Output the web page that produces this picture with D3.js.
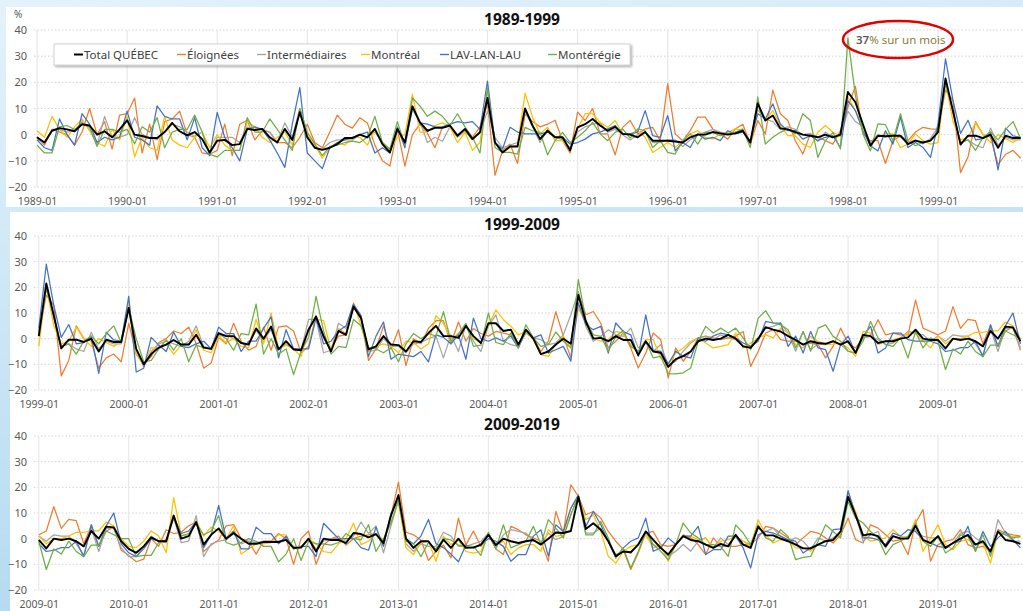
<!DOCTYPE html>
<html>
<head>
<meta charset="utf-8">
<script src="https://cdn.jsdelivr.net/npm/d3@7/dist/d3.min.js"></script>
<style>
  body { margin: 0; background: #fff; }
  svg { display: block; font-family: "Noto Sans", "Open Sans", sans-serif; }
</style>
</head>
<body>
<svg id="chart" width="1023" height="611"></svg>
<script>
// monthly % change, 1989-01 .. 2019-12 (one row per year)
const total = [
  -1, -3, 1.5, 2.5, 2, 1.3, 4, 3.5, 0, 1.3, -1, 2,
  5.5, 0, -0.5, -1.3, -1.3, 1, 4.5, 1.3, -0.3, 1, -1.7, -6.8,
  -2.3, -2, -4, -3.6, 2.2, 1.8, 2.2, -1, -3, 2.2, -2, 8.6,
  -1, -5, -5.8, -5, -3.6, -1.3, -1.3, 0, -1, 2.2, -3.6, -6.8,
  2.2, -3, 10.8, 4.7, 1.5, 2.6, 2.6, 3.5, -0.4, 2.2, -1.7, 0.9,
  14, -3, -6.8, -4.5, -4.5, 10, 3.5, -1.7, 1.5, -1, -1, -6,
  2.8, 4, 6, 3.5, 1.5, 3, 0.3, 0, -1, 1, -2.3, -2.3,
  -2.3, -2.6, -3, -1, 0, 0, 1, 0.5, 0, 0.5, 1.5, -3,
  12, 5.4, 7.3, 2.4, 2, 1, 0, -0.4, -1, 0, -1, 0,
  16.3, 12.4, 4, -4.2, -0.4, -0.6, -0.4, -0.4, -3.6, -2.3, -3, -2.3,
  1, 21.5, 9, -3.8, -0.4, -0.4, -1.3, 0, -5, -0.4, -1.3, -1.3,
  12, -4, -10, -6, -3.5, -2.3, -0.5, -2.3, -2.3, 1.5, -3.5, -4,
  2.2, 1, 1, -1.7, -2.3, 4, 0, 4.7, -4.2, -1, -4.2, -4.5,
  3.5, 8.6, 1, -5, 3, 1.5, 12.5, 8, -4.2, -3, 1, -2.3,
  -2.5, -5, -1, -1.3, 2.2, 5, 1, 1, 0.3, 5, 1, -1.7,
  6, 6, 3, 3.5, -2.3, 3.5, 0, -6, -5, -2.3, 0, -2,
  17, 6.7, 0, 0.3, -1, 1, -0.5, -0.5, -6.4, -1, -5, -5.5,
  -11, -8, -6.8, -5, -1, 0, -0.5, 0, 1.5, 0, -3, -3.6,
  0, 4.5, 3.5, 2.8, 1, -0.5, -2.3, -1, -1.7, -2, -1, -2.3,
  -1, -5.5, 1.5, 1, -1.7, -1, -1, 0, 0.5, 3.5, 0, -0.5,
  -0.5, -3.8, 0, -0.5, 0, -1, -3, 3, 0, 4.7, 4.4, -1,
  -4, -5.5, -3, 0.5, -1, -1, 9, 0, 1, 6.5, -2.3, 1.5,
  4, 0, 2.2, 0, -2, -2, -1.3, -1.3, -1.3, -0.5, -3.6, -3.5,
  0, -5, 0, -0.5, -0.5, -1.7, 2.2, 1.8, 0.5, 1.8, -1.7, 9,
  17, 0, -3.6, -1, -1, -5, -0.4, -3.6, 0, -3.6, -3.5, -2.3,
  1.5, -2.5, 0, -1, -1.7, -1, -0.5, -2.3, 0, 2.4, 2.2, 3,
  16.3, 3.8, 6, 3.5, -1, -6.8, -5, -5.3, -2.3, 2.8, -0.5, -3.6,
  -6.2, -2.3, 1, -0.5, -1, -2.3, -3.6, -2, -3, 1.5, -2.3, -3.6,
  4.7, 1.3, 1.3, 0, -1, -2.3, -3.8, -3.8, -2.3, -1, -0.5, 2.8,
  16.3, 9.2, 1.3, 1.8, 1, -3, 1, 0, 0, 5, -0.5, -1.7,
  1, -3.6, -1.7, 0, 1.5, -2.3, -1, -5, 2.8, -0.5, -1, -2
];

const eloignees = [
  -1, -4, 2, 1, 0, -4, 1, 10, 0, 5, -5.5, 7.5,
  8, 14, -7, 4, -9.5, 5, 6, 9, 0, -1, -7, -7.5,
  -6, 4, -8, 4, 5.5, -2, 1.5, 1, -3, -3, -5, -1,
  4, -3, -5, 1, 7.5, 4, 2.5, 6.5, 4.5, -4, -10, -12,
  2, -12, 0, 4, 0.5, -5, 3, 3.5, 0, 2, -1, 3,
  12, -15.5, -6, -3.6, -11, 8, 5, 3, 4, 5.5, -2.3, -7,
  8.6, 5.4, 10, 0.3, 0.3, -7.7, 2.8, 5.4, 0.3, 2.2, 2.8, -2.3,
  19.5, 0.3, -2.3, 1.5, 6.7, 6.7, 2.2, 0.3, -1.7, 2.2, 4, -3.6,
  5.4, 0.3, 17, 8, 5.4, -2.3, -7.4, 0.3, -1, -2.3, -3.6, 1.5,
  10.5, 18.5, 0.3, -2.3, -2.3, -11, -2.3, -0.4, -2.3, 1, 2.8, 2.2,
  2, 17, 13, -14.5, -8.5, 5, 0, -1, -11.5, -7.5, -6, -9,
  6, -6, -10, -7, -1.5, 0, 3, 2, 4.5, -2, -11.5, -9.5,
  0.5, -2, 6, -1, -4.5, -3, 4.5, -4.5, 4.5, 5, 3, -5.5,
  -3, 9, 0, -4, 1, 1.5, 12, 8, -8.5, -4, 5, -4,
  3.5, -10.5, 0, -2, 4, 7, 7, -2, 6.5, -1, 4, 2,
  1, 2.8, 2.2, 1.5, -3, 2.2, 0.3, -5, -1, 10.5, 1, -7.5,
  17.8, 9.3, 10.6, 6, -3.6, -1, 2.2, -3.6, -11.4, -5.6, 2.2, -0.4,
  -15.3, -3.6, -8.8, -5, 0.3, 1, 0.3, -0.4, 0.3, 1, 2.8, -10.8,
  -5, 2.2, 3.5, -0.4, -1, -1, -2.3, -1.7, -2.3, -7.5, -3, 4.1,
  -1.7, -3.6, 0.3, 1.5, 7.4, 1.5, 2.2, 1.5, 1.5, 15, 4.1, 2.8,
  1.5, 3, 12.5, 4, 7.5, 7, -2, 5, -3, 3, 4.5, -4.5,
  -6.5, -9, -8, 0, -3, 3.5, 2, 2.5, 5, 6.5, -5, -2.5,
  -0.5, 5, 5.5, 0, -1, -6, -1, -1, 2, 0, -10, 0,
  3, -10, -2.5, 0, 1, -2.5, 0, 1, 1.5, 2, -2.5, 9,
  22, 2.5, 1.5, -0.5, -8.5, -5, -2.5, -7.5, 8, -2.5, 3, -3,
  1.5, -4, -6.2, 4.8, 3.5, 1.5, 0.3, -1, -8.8, 10.6, 2.2, 21,
  16.5, 9.3, 10.6, 8, 2.8, -1, -4.3, -12, -5.6, 2.2, 2.8, -2.3,
  -3, -2.3, 1.5, 0.3, -2.3, -6.2, 0.3, -3, -3, -3, -2.3, -2.3,
  0.3, 4.8, 4.1, 2.2, 0.3, -2.3, 0.3, 2.8, 2.2, 0.3, -1.7, 1.5,
  8, -0.4, -1.7, 5.4, 4.1, 1.5, -1, -0.4, -6.2, 6.1, 11.3, -8.8,
  -2.3, -1, -0.4, 3.5, -2.3, -3.6, -3, -4.9, 3.5, 2.2, 1.5, 1
];

const intermediaires = [
  -2, -3, 2, 2, 1, 1.5, 5, 2, -4, 7, -1, -1,
  0, 6.5, 0, -1, -2, 1, 4, 3, 1, -0.5, 1, -8,
  -1, -1, -1, -3, 3, 1.5, 2, 1, -3, 4.5, -1, 10,
  -1, -5, -5.5, -3, -2, -2, -2, 0, -1, 1, -3, -6,
  2, -3, 9.5, 5, -3, -1, -2.5, 3, -1, 1.5, -2, 1,
  9, -1, -5, -4, -3, 9, 3, -3, 2, -1, -2, -5,
  1, 3, 4, 4.5, 1, 2, 0, -2, 0, 1, -3, -3,
  -2, -2, -4.5, -2, 0, 1, 2, 1, 0.5, 1, 1, -2.5,
  9.5, 6, 5, 2, 3, 2, 0, 0.5, -2.5, 1, -1, -0.5,
  9, 5, 3, -3, 0, -1, 0, -1, -3, -2, -3.5, -1.5,
  3, 20, 8, -3, -2, -4, -5, 2.5, -4, -1, -2, -2,
  12, -4, -11, -5, -2, -1, -2, -3, -1, 5, -3, -4,
  1, 1.5, 0, -1.5, -2, 3, -0.5, 3.5, -4, -2, -4, -4.5,
  7.5, 7.5, -5.5, -4.5, 6, 4, 12, 9, -5, -4.5, 0, -3,
  -3, -5.5, -2, -1.5, 0, 1, -7.5, 1.5, -5, 5.5, -1, -5,
  5, 9.3, -1, -2.3, -3, 2.2, 0.3, -0.4, -2.3, -1.7, 1.5, 9.3,
  18.4, 4.8, -1, 0.9, 3.5, 1.5, 0.9, 4.1, -3.6, -1.7, -4.9, -2.3,
  -10.4, -8.8, -4.9, -1.7, 0.3, 0.9, -0.4, 1.5, 0.3, -0.4, -3, -3,
  -0.4, 4.1, 4.8, 6.1, 2.2, -4.9, 2.8, -4.3, -2.1, -2.3, -1, -2.3,
  -4.9, -5.6, 0.3, 0.9, -0.4, -2.3, -1.7, 0.3, 2.8, 2.2, 1.5, -1,
  1, -1, 1.5, 1, 1, -2, -6.5, 4, -5, 4, 4, -3.5,
  -7, -7, -3, 1, -1, -1.5, 8, -1.5, -1, 9, -7, -2,
  -1, -0.5, 2, -2, -1, -1.5, -1, -1, -1, 0, -3, -3,
  0, -4, -1, 0, 0, -1, 1, 6.5, 2, 5, -5.5, 5,
  15, -2, -5, -2, -3, -3, 2.5, 1, -3, -3, -2, -1,
  2, -3.6, 1.5, 3.5, 2.8, 2.2, -1, -1.7, 2.2, -0.4, 0.9, 9.3,
  17, 2.2, 2.2, 4.1, -1, -6.2, -4.9, -5.6, -2.3, 2.8, -2.3, -3.6,
  -6.9, -4.9, -2.3, -4.9, -1, 0.3, -3.6, 0.3, -2.3, 0.9, -1, -2.3,
  4.1, 2.8, 4.1, 0.9, -1, 0.3, -1, -4.3, 0.3, -1, 0.3, 2.2,
  18, 9.3, -1, 1.5, 2.8, -3.6, 0.9, 0.3, 0.9, 3.5, 0.9, 0.3,
  0.3, -3.6, -1.7, 2.2, 2.8, 0.3, -1.7, -5.6, 7.4, 2.2, -1, -1
];

const montreal = [
  1.5, -1, 7, 2, -1, 3, 6, 1.5, -3, -4.5, 2, -2,
  7, -8.5, -1, -5, -6, 7, -2, -4, -5, -1, 1, -5,
  0, -4, -6, -6, 5, 3, -1, -3, -1, 1, -4, 10,
  0, -4, -9, -5, -3, -4, -1, -1, -4, 2, -3, -6,
  -1, 0, 15.5, 1, 1, 3.5, 4.5, 3, -3, 1, -6, -3,
  17, -3, -6.5, -5, -4, 15.9, 6.7, 0.3, 2.8, -2.3, -2.3, -5.5,
  2.2, 8, 8, 4.7, 2.8, 5.4, 0.3, 0.3, 1.5, -1, -6.8, -4.9,
  -3, -4.9, -2.3, 0.3, 1.5, -1, -1.7, 0.3, 0.9, 2.2, 1.5, -3.6,
  11.2, 5.4, 9.2, 3.5, -0.4, -0.4, -3.6, -4.9, 0.9, 3.5, 0.9, -0.4,
  14.4, 9.2, 2.8, -3.6, -1, 0.3, 0.3, -4.9, -3.6, 0.3, -2.3, -3.6,
  -3, 20.5, 5, -2, -1, 4.5, 0, -3, 0, -1.5, -3, -1,
  14.5, -6, -10.5, -3.5, -4, -2, -6, -2.5, -2.5, 3.5, -4.5, -5.5,
  1, -1.5, 0, -3, -3.5, 7.5, -2, 10, -4, -2.5, -4, -7,
  4, 7.5, 7, -4.5, 4, 2, 14, 5, -5, -3, -2, -3,
  -5.5, -1, -1.5, -4, -2, 9, 6, 0, 1.5, 4.5, 0, -1.5,
  5, 11.2, 7.4, 4.8, 1.5, 2.8, -0.4, -6.2, -6.9, -2.3, 0.9, -3.6,
  11.9, 6.1, 0.3, -1, -0.4, 2.8, 2.2, -2.3, -4.9, -0.4, -0.4, -7.5,
  -10.1, -5.6, -3.6, -1, 0.3, -1.7, -3.6, -3, -2.3, 2.2, -3.6, -1.7,
  0.3, 1.5, 0.3, 4.1, 2.2, -2.3, -3.6, 0.9, -1, -2.3, -2.1, -1.7,
  -3.6, -6.9, 2.8, 2.2, -2.3, -1, -0.4, 0.3, 2.2, 2.2, -1, -3.6,
  1, -2, 0, 0, 1, 2.5, 2.5, 3, 3, 6.5, 5, 0,
  -3, -3.5, -1, 3, 1, -5.5, 16, 1.5, 1, 7, 1, 4.5,
  3, 0, 5, -6, -4, -2, -2, -1.5, 1.5, 1.5, -4, -3.5,
  0, -2, -5, -5.5, -2, 0, 6, -2.3, -1, 2, -0.5, 6.5,
  14.5, -3.6, -6.2, -1.5, -1, -8.8, 1, -2.3, -0.5, -5, -5.6, -5,
  2, -2.3, -1, -6.2, -3.6, -2.3, -2.3, -4.9, 3.5, 0.9, 1.5, 11.9,
  16.5, 7.4, 9.3, 2.8, -6.9, -9.5, -4.9, -3, -2.3, 1.5, -3.6, -2.3,
  -8.8, -2.3, 0.9, 0.9, -0.4, 0.3, -3.6, -1, -0.4, 0.9, -1, -3,
  7.4, 1.5, -1.7, -0.4, -1, -3.6, -3.6, -4.9, -2.3, -1, -1, 2.2,
  17, 10.6, 1.5, -1, -0.4, 0.3, 3.5, 0.9, 0.3, 7.4, -4.9, 0.3,
  5.4, -2.3, -4.3, -1, -0.4, -2.3, -1.7, -9.5, 2.8, 1.5, 0.9, 0.5
];

const lavLanLau = [
  -2, -5, -6, 6, 0, -4, 8, 4, -3, -1, -2, -1,
  9, -1, -2, -4, 11, 7, 6, 6, -2, 6.5, -5, -8,
  8.5, -1, -5, -10, 2, 3, 2, -2, -7, -12.5, 4, 18,
  -7, -10, -13, -5, -3, -2, -1, 0, 1, -7, -5, -7,
  3, -5, 11, 4.5, 4, 3, 3, 4, 5, 4.5, 5, 2,
  20.5, -3, -5.5, 2.8, 1, 0.3, 0.3, 0.3, 1, -1, -1, -3.6,
  -3, -1.7, 0.3, 1, 2.2, 3.5, 0.3, 0.3, 1, 9.2, -0.4, -1,
  7.3, -6.2, -3, -4.9, 0.3, -1.7, -1, -2.3, 1.5, 0.3, 1, -2.3,
  8, 6, 11.8, 4.1, 1.5, 1.5, -1.7, -0.4, -2.3, -1, -0.4, -4.9,
  13, 9.2, 1.5, -4.2, -6.2, 1.5, -3.6, 6.7, -4.9, -3, -4.9, -8.7,
  4, 29, 13, 0.5, 5.5, -2, -1.5, 1, -13.5, 2.5, -0.5, -1,
  16.5, -13, -11.5, 0.5, -2.5, -5, 2.5, -3, -3.5, -2, -1, -4,
  4.5, 2, 2, -5, -1, -1, 4, 8.5, -7.5, 3.5, -4, -4,
  -4, 8, -2, -1, 3, 5, 13.5, 9, -7, 1, 6.5, -8,
  -6, -6.5, -7, -5, -9, 1.5, 0.5, -2, 1.5, -8, 8, 0,
  -1, 0.3, -1, 1, -3.6, 3.5, 0.3, 1.5, -5.6, -4.3, -3, -8.8,
  13.9, 5.4, 3.5, 4.8, -5.6, 6.1, 2.8, 1.5, -6.9, 9.3, -4.9, -4.9,
  -9.8, -4.9, -6.9, -7.5, 0.3, -1, 1, 2.2, 1.5, 0.3, -1.7, -3,
  -1, 6.7, 6.1, 6.1, -3, 1, -5.6, 2.8, -3.6, -4.3, -12.7, -2.3,
  1, -5.6, 1, 4.8, -5.6, -3.6, 2.2, 2.2, -0.4, -1, -1, -1,
  -2, -5, -4.5, -3.5, -3.5, -1, -7, 5.5, -3, 5, 10, -2,
  -5.5, -7, -4, 0, -1, -1, 8.5, 2, 3, 6.5, -3.5, 1.5,
  13, 0, 3, -4, -4, 4.5, 2, 2, -2, 1, -4, -3,
  -3, -7, 6, 3, 0, 0, 0, -3.5, -4.5, 4.5, -3, 10,
  15, 0, -2, 1, 7.5, -2, -3.5, -6, -9, -2.5, -3.5, -2.5,
  0, -1, -3, -8.8, -6.2, -6.2, 1, 3.5, -6.8, 5.4, 2.8, 11.9,
  17, 4.8, 10.6, 5.4, -1, -7.5, -3.6, -1, 0.3, 8, -4.9, -3.6,
  0.3, -2.3, 1, 1, 4.8, -6.2, -4.3, -4.3, 1, 1, -3.6, -11.4,
  1.5, 2.8, 2.2, 1, -0.4, -1, -5.6, -3.6, -2.3, -3, 3.5, 3.8,
  18.7, 9.3, 0.3, 0.3, -0.4, -2.3, 2.2, 1, 3.5, 2.8, -0.4, -1.7,
  -3, -3.6, -1.7, -1, 4.8, -4.9, 2.8, -3, 0.3, 2.8, -0.4, -3.6
];

const monteregie = [
  -4, -7, -7, 3, 3.5, 2, 4, 3, -4.5, 2, 2, 1,
  2, -3.5, 3, 1, 6.5, -5, 1, 2, 2, 7.5, 1, -7.5,
  -8.5, -6, -6, -6, 6.5, 1, 1, 6, 2, -2, -6, 10,
  1, -3.5, -8, -4.5, -4, -3, -2.5, -3, -1, 7, -3, -5.5,
  5, -4, 14, 11, 7, 9, 7, 3.5, 8, 3, -1, -7,
  18, -4.9, -6.8, -6.8, -7.4, 2.8, 1.5, 0.9, -7.7, -2.3, 0.9, -3,
  -1, 1.5, 4.7, 0.3, -2.3, 0.9, 2.2, -1.3, 2.2, 1.5, -4.9, -2.3,
  -6.8, -7.4, -2.3, 0.3, -3.6, 0.9, 0.9, -0.4, 0.3, 0.9, 2.2, -4.9,
  14.4, -3.6, -1, 0.9, 2.2, 0.3, 8, 5.4, -8.7, -2.3, 0.9, -5.5,
  37, 15, 0.3, -6.2, 4.1, 3.8, -2.3, 8, -2.3, -4.2, -3, -2.3,
  1, 19.5, 9, -3, -2, -6, -1, 1, -2, 2, 5, -1.5,
  12, 0, -9, -8.5, -4, -0.5, -4.5, 0, -9, -2.5, -3.5, -4,
  2, 0, -4.5, 2, 1.5, 13.5, -6, 0, -6, -4, -14, -5,
  0.5, 16.5, 3, -6, -3, -3.5, 7.5, 5, -3.5, -4, -5.5, -3.5,
  -9, -2, 2, 0, 2, 1, 10.5, -1, 2, 6, -3, -2.5,
  10, -1.5, -2.3, 2.2, -3.6, 5.4, 0.3, -3, -2.3, 2.6, -1, -3.6,
  23, 7.4, 1.5, 0.9, -4.9, 0.9, 3.1, -3, -4.9, -1, -7.5, -6.9,
  -13.6, -13.7, -13.3, -11.4, -1, 4.8, 2.2, 4.1, 2.2, 4.1, 0.3, -4.3,
  8, 10.9, 6.1, 5.4, 3.5, -3.6, 2.8, -4.9, 4.1, 5.4, 0.9, -1,
  -4.9, -5.6, -1, 6.7, 0.3, -2.3, -3, 0.3, -7.5, 2.8, -3.6, 0.3,
  -1, -12, -4, -6, -1, -5, -7, -2.5, -2.5, 3, 1.5, 0,
  0, -7, -6.5, -6.5, -1.5, -0.5, 9, 1, 2, 6, 1.5, 3,
  9, -1.5, -2.5, -1.5, 0, -1, -3, -3, -9, -6, 0, -8.5,
  -1, -2, -2, -2.5, -1.5, 2, 0, -0.5, 5.5, -5, 0, 6,
  15, -1, -2, -7, -1.5, -4, 0, -0.5, -2.5, -3, -3, -6.5,
  2.5, -4, 5.4, -3.6, -2.3, -1, 4.8, -2.3, 7.4, 4.1, 0.3, 9.3,
  16.5, 1.5, 1.5, 6.7, 0.3, -7.5, -3.6, -11.4, -4.9, 2.8, -2.3, -4.9,
  -8.2, -2.3, 6.1, 2.2, 0.3, -2.3, -2.3, -3, -6.9, 5.4, 2.2, -2.3,
  5.4, 0.3, -1, 3.5, 0.9, -8.2, -7.3, -6.9, -1, 5.4, 2.8, 0.3,
  14.5, 8, 6.1, 2.8, 0.3, -6.2, -2.3, -1, 0.9, 6.1, -1, -3,
  0.9, -5.6, -3.6, 1.5, 0.9, -4.9, 1.5, -6.9, 2.8, 1.5, 0.3, 0.9
];

const firstYear = 1989;
const periods = ['1989-1999', '1999-2009', '2009-2019'];
const periodStart = [1989, 1999, 2009];
const yTicks = [40, 30, 20, 10, 0, -10, -20];
const seriesNames = ['Total QUÉBEC', 'Éloignées', 'Intermédiaires', 'Montréal', 'LAV-LAN-LAU', 'Montérégie'];
const seriesColors = ['#000000', '#ED7D31', '#A5A5A5', '#FFC000', '#4472C4', '#70AD47'];
const seriesData = [total, eloignees, intermediaires, montreal, lavLanLau, monteregie];

// panel geometry: y of 40 / -20 gridlines, x of the first month
const panelBox = [
  { top: 30, bottom: 187, x0: 37, title: 25, labels: 205 },
  { top: 236, bottom: 390, x0: 38.8, title: 230, labels: 408 },
  { top: 436, bottom: 590, x0: 38.8, title: 430, labels: 608 }
];

const svg = d3.select('#chart');
const defs = svg.append('defs');

const grad = defs.append('linearGradient').attr('id', 'bg')
  .attr('x1', 0).attr('y1', 0).attr('x2', 0.3).attr('y2', 1);
grad.append('stop').attr('offset', '0%').attr('stop-color', '#e4f2fb');
grad.append('stop').attr('offset', '60%').attr('stop-color', '#c6e3f5');
grad.append('stop').attr('offset', '100%').attr('stop-color', '#b3d8f0');

const shadow = defs.append('filter').attr('id', 'shadow').attr('x', '-5%').attr('y', '-30%').attr('width', '110%').attr('height', '180%');
shadow.append('feDropShadow').attr('dx', 1.5).attr('dy', 1.5).attr('stdDeviation', 1.2).attr('flood-color', '#000').attr('flood-opacity', 0.35);

svg.append('rect').attr('width', 1023).attr('height', 611).attr('fill', 'url(#bg)');
svg.append('rect').attr('x', 6).attr('y', 7).attr('width', 1017).attr('height', 200).attr('fill', '#fff');
svg.append('rect').attr('x', 10).attr('y', 212).attr('width', 1013).attr('height', 399).attr('fill', '#fff');

periods.forEach((title, pi) => {
  const box = panelBox[pi];
  const offset = (periodStart[pi] - firstYear) * 12;
  const g = svg.append('g');

  const x = d3.scaleLinear().domain([0, 120]).range([box.x0, 938]);
  const y = d3.scaleLinear().domain([-20, 40]).range([box.bottom, box.top]);
  const yearTicks = d3.range(0, 132, 12);

  // gridlines
  g.selectAll('.hgrid').data(yTicks).join('line')
    .attr('class', 'hgrid')
    .attr('x1', 34).attr('x2', 1023)
    .attr('y1', d => y(d)).attr('y2', d => y(d))
    .attr('stroke', '#d4d4d4').attr('stroke-width', 1)
    .attr('stroke-dasharray', '1.5,2');
  g.selectAll('.vgrid').data(yearTicks).join('line')
    .attr('class', 'vgrid')
    .attr('x1', d => x(d)).attr('x2', d => x(d))
    .attr('y1', y(40)).attr('y2', y(-20))
    .attr('stroke', '#e8e8e8').attr('stroke-width', 1.2);

  // axes
  const yAxis = g.append('g').attr('transform', 'translate(27,0)')
    .call(d3.axisLeft(y).tickValues(yTicks).tickSize(0).tickPadding(0));
  yAxis.select('.domain').remove();
  yAxis.selectAll('text').attr('font-size', 11).attr('fill', '#595959')
    .attr('font-family', '"Noto Sans", sans-serif');

  const xAxis = g.append('g')
    .call(d3.axisBottom(x).tickValues(yearTicks).tickSize(0)
      .tickFormat(i => (periodStart[pi] + i / 12) + '-01'));
  xAxis.select('.domain').remove();
  xAxis.selectAll('text').attr('y', box.labels).attr('dy', 0)
    .attr('font-size', 10.5).attr('fill', '#595959')
    .attr('font-family', '"Noto Sans", sans-serif');

  // title
  g.append('text').attr('x', 522).attr('y', box.title)
    .attr('text-anchor', 'middle').attr('font-size', 15.5).attr('font-weight', 'bold')
    .attr('fill', '#111').text(title);

  // lines: coloured series first, total on top
  const line = d3.line().x((d, i) => x(i)).y(d => y(d)).curve(d3.curveLinear);
  const order = [1, 2, 3, 4, 5, 0];
  order.forEach(si => {
    g.append('path')
      .datum(seriesData[si].slice(offset, offset + 132))
      .attr('d', line)
      .attr('fill', 'none')
      .attr('stroke', seriesColors[si])
      .attr('stroke-width', si === 0 ? 1.9 : 1.25)
      .attr('stroke-linejoin', 'round');
  });

  if (pi === 0) {
    g.append('text').attr('x', 14).attr('y', 18).attr('font-size', 10)
      .attr('fill', '#595959').text('%');
  }
});

// legend
const legendX = [74, 177, 257, 361, 440, 548];
const legend = svg.append('g');
legend.append('rect').attr('x', 54).attr('y', 44).attr('width', 576).attr('height', 21)
  .attr('fill', '#fff').attr('stroke', '#c8c8c8').attr('stroke-width', 0.8)
  .attr('filter', 'url(#shadow)');
const items = legend.selectAll('.item').data(seriesNames).join('g')
  .attr('class', 'item')
  .attr('transform', (d, i) => `translate(${legendX[i]},54.5)`);
items.append('line').attr('x1', 0).attr('x2', 9).attr('y1', 0).attr('y2', 0)
  .attr('stroke', (d, i) => seriesColors[i]).attr('stroke-width', (d, i) => i === 0 ? 2 : 1.4);
items.append('text').attr('x', 10).attr('y', 4).attr('font-size', 11.5)
  .attr('fill', '#404040').text(d => d);

// annotation on the 1998-01 peak
const note = svg.append('g');
note.append('ellipse').attr('cx', 898).attr('cy', 39.5).attr('rx', 55).attr('ry', 18.5)
  .attr('fill', 'none').attr('stroke', '#e00000').attr('stroke-width', 2.5);
const noteText = note.append('text').attr('x', 856).attr('y', 43.5).attr('font-size', 11.5);
noteText.append('tspan').attr('fill', '#595959').attr('font-weight', 600).text('37');
noteText.append('tspan').attr('fill', '#8a7a3a').text('% sur un mois');
</script>
</body>
</html>
